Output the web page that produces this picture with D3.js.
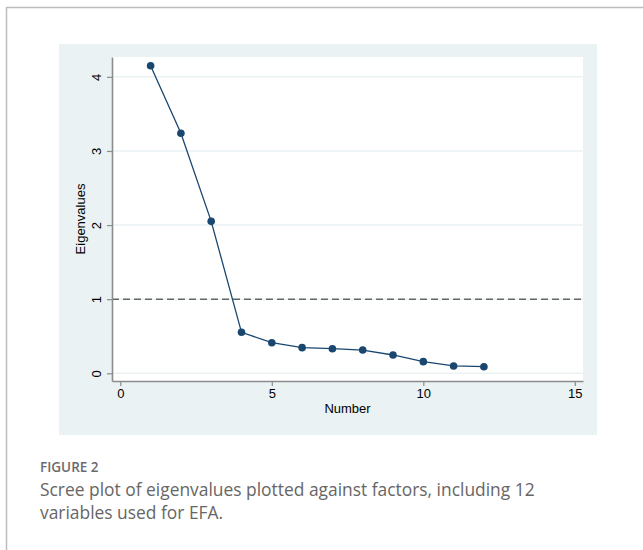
<!DOCTYPE html>
<html>
<head>
<meta charset="utf-8">
<script src="https://cdn.jsdelivr.net/npm/d3@7"></script>
<style>
  html, body { margin: 0; padding: 0; background: #fff; }
  svg { display: block; }
</style>
</head>
<body>
<svg id="chart" width="643" height="550"></svg>
<script>
// ---- data ----
const factorNumbers = [1, 2, 3, 4, 5, 6, 7, 8, 9, 10, 11, 12];
const eigenvalues = [4.15, 3.24, 2.05, 0.553, 0.413, 0.346, 0.332, 0.314, 0.247, 0.157, 0.099, 0.089];
const xTickValues = [0, 5, 10, 15];
const yTickValues = [0, 1, 2, 3, 4];
const referenceLine = 1;
const xTitle = "Number";
const yTitle = "Eigenvalues";
const figureLabel = "FIGURE 2";
const captionLines = [
  "Scree plot of eigenvalues plotted against factors, including 12",
  "variables used for EFA."
];

// ---- layout ----
const svg = d3.select("#chart");
const plot = { left: 112, right: 583, top: 57, bottom: 381 };
const panel = { left: 59, right: 597, top: 44, bottom: 435 };
const navy = "#1a476f";
const bgBlue = "#eaf2f3";
const axisGray = "#8c8c8c";
const font = "Liberation Sans, Arial, sans-serif";

// frame
svg.append("line").attr("x1", 6).attr("x2", 643).attr("y1", 7.5).attr("y2", 7.5)
  .attr("stroke", "#bdbdbd").attr("stroke-width", 1.5);
svg.append("line").attr("x1", 6.5).attr("x2", 6.5).attr("y1", 7).attr("y2", 550)
  .attr("stroke", "#bdbdbd").attr("stroke-width", 1.5);

// graph region background
svg.append("rect").attr("x", panel.left).attr("y", panel.top)
  .attr("width", panel.right - panel.left).attr("height", panel.bottom - panel.top)
  .attr("fill", bgBlue);
svg.append("rect").attr("x", plot.left).attr("y", plot.top)
  .attr("width", plot.right - plot.left).attr("height", plot.bottom - plot.top)
  .attr("fill", "#fff");

// scales
const x = d3.scaleLinear().domain([-0.274, 15.27]).range([plot.left, plot.right]);
const y = d3.scaleLinear().domain([-0.104, 4.268]).range([plot.bottom, plot.top]);

// gridlines
svg.append("g").selectAll("line").data(yTickValues).join("line")
  .attr("x1", plot.left).attr("x2", plot.right)
  .attr("y1", d => y(d)).attr("y2", d => y(d))
  .attr("stroke", bgBlue).attr("stroke-width", 1.5);

// reference line
svg.append("line")
  .attr("x1", plot.left).attr("x2", plot.right)
  .attr("y1", y(referenceLine)).attr("y2", y(referenceLine))
  .attr("stroke", "#222").attr("stroke-width", 1)
  .attr("stroke-dasharray", "7,4");

// axes
const xAxis = svg.append("g").attr("transform", `translate(0,${plot.bottom})`)
  .call(d3.axisBottom(x).tickValues(xTickValues).tickFormat(d3.format("d"))
    .tickSize(5).tickSizeOuter(0).tickPadding(3));
const yAxis = svg.append("g").attr("transform", `translate(${plot.left},0)`)
  .call(d3.axisLeft(y).tickValues(yTickValues).tickFormat(d3.format("d"))
    .tickSize(5).tickSizeOuter(0));

[xAxis, yAxis].forEach(g => {
  g.attr("font-family", font).attr("font-size", 13);
  g.select(".domain").attr("stroke", axisGray).attr("stroke-width", 1.6);
  g.selectAll(".tick line").attr("stroke", axisGray).attr("stroke-width", 1.2);
  g.selectAll(".tick text").attr("fill", "#000");
});
yAxis.selectAll(".tick text")
  .attr("x", null).attr("dy", null)
  .attr("text-anchor", "middle")
  .attr("transform", "translate(-11,0) rotate(-90)");

// axis titles
svg.append("text").attr("x", (x(0) + x(15)) / 2).attr("y", 413)
  .attr("text-anchor", "middle").attr("fill", "#000")
  .attr("font-family", font).attr("font-size", 13).text(xTitle);
svg.append("text")
  .attr("transform", `translate(85,${(plot.top + plot.bottom) / 2}) rotate(-90)`)
  .attr("text-anchor", "middle").attr("fill", "#000")
  .attr("font-family", font).attr("font-size", 13).text(yTitle);

// line + markers
const pts = factorNumbers.map((n, i) => ({ n, v: eigenvalues[i] }));
svg.append("path").datum(pts)
  .attr("d", d3.line().x(d => x(d.n)).y(d => y(d.v)))
  .attr("fill", "none").attr("stroke", navy).attr("stroke-width", 1.3);
svg.append("g").selectAll("circle").data(pts).join("circle")
  .attr("cx", d => x(d.n)).attr("cy", d => y(d.v)).attr("r", 3.8)
  .attr("fill", navy);

// caption
svg.append("text").attr("x", 40).attr("y", 472)
  .attr("fill", "#6b6b6b").attr("font-family", "Open Sans, sans-serif")
  .attr("font-size", 13.5).attr("font-weight", 600).text(figureLabel);
svg.append("g").selectAll("text").data(captionLines).join("text")
  .attr("x", 40).attr("y", (d, i) => 496 + i * 23)
  .attr("fill", "#666").attr("font-family", "Open Sans, sans-serif")
  .attr("font-size", 17.4).text(d => d);
</script>
</body>
</html>
